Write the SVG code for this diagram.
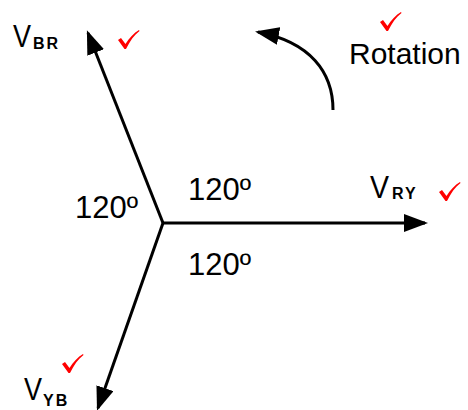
<svg xmlns="http://www.w3.org/2000/svg" width="468" height="410" viewBox="0 0 468 410">
<style>
.t{font-family:"Liberation Sans",Arial,sans-serif;font-size:30px;fill:#000}
.n{font-family:"Liberation Sans",Arial,sans-serif;font-size:31px;fill:#000}
.v{font-family:"Liberation Sans",Arial,sans-serif;font-size:32px;fill:#000}
.s{font-family:"Liberation Sans",Arial,sans-serif;font-size:16px;font-weight:bold;letter-spacing:2px;fill:#000}
.ln{stroke:#000;stroke-width:3;fill:none}
.ck{fill:#ff0000}
</style>
<defs>
<marker id="ah" markerWidth="8" markerHeight="6" refX="7" refY="3" orient="auto" markerUnits="strokeWidth">
<path d="M0,0 L8,3 L0,6 z" fill="#000"/>
</marker>
<path id="check" d="M0,10 L3,8 L7.5,14 C11,8 16,3 21,0 L21.5,1 C16,5 12,11 8,19 L6.5,19 z"/>
</defs>
<g id="connectors">
<line class="ln" x1="163" y1="223" x2="88" y2="33" marker-end="url(#ah)"/>
<line class="ln" x1="163" y1="223" x2="425" y2="223" marker-end="url(#ah)"/>
<line class="ln" x1="163" y1="223" x2="98" y2="408" marker-end="url(#ah)"/>
<path class="ln" d="M333,110 C333,72 310,42 258,32" marker-end="url(#ah)"/>
</g>
<g id="VBR">
<text class="v" x="13" y="47" textLength="18" lengthAdjust="spacingAndGlyphs">V</text>
<text class="s" x="33" y="49">BR</text>
<use href="#check" class="ck" x="118" y="30"/>
</g>
<g id="Rotation">
<text class="t" x="349" y="64">Rotation</text>
<use href="#check" class="ck" x="380" y="12"/>
</g>
<g id="VRY">
<text class="v" x="370" y="198" textLength="19" lengthAdjust="spacingAndGlyphs">V</text>
<text class="s" x="392" y="199">RY</text>
<use href="#check" class="ck" x="439" y="182"/>
</g>
<g id="VYB">
<text class="v" x="24" y="400" textLength="18" lengthAdjust="spacingAndGlyphs">V</text>
<text class="s" x="43" y="406">YB</text>
<use href="#check" class="ck" x="62" y="354"/>
</g>
<g id="angles">
<text class="n" x="75" y="218">120º</text>
<text class="n" x="188" y="200">120º</text>
<text class="n" x="188" y="275">120º</text>
</g>
</svg>
